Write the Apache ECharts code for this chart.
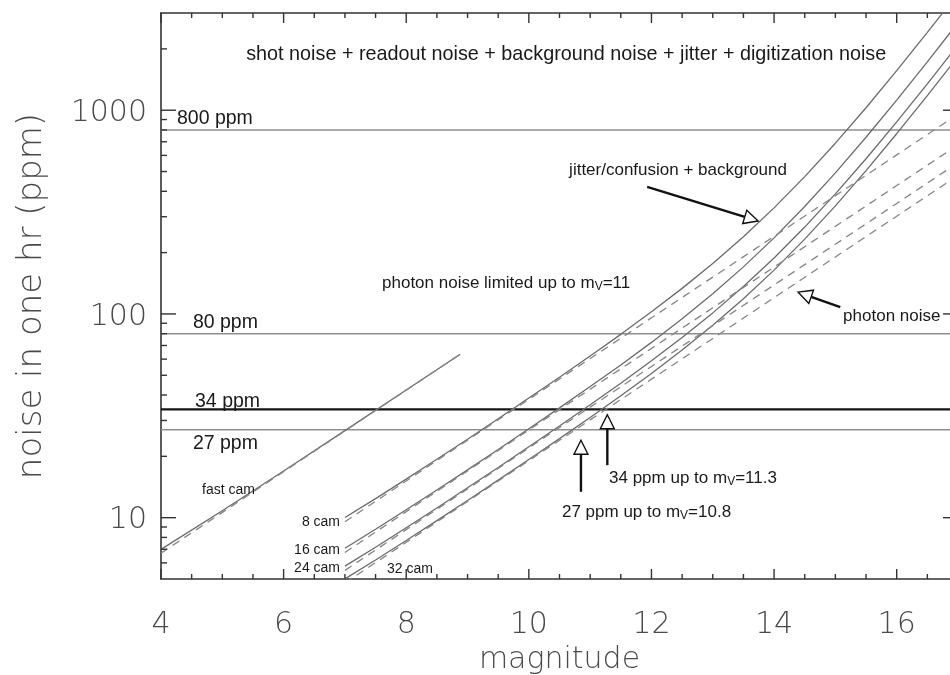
<!DOCTYPE html>
<html>
<head>
<meta charset="utf-8">
<title>Noise in one hour versus magnitude</title>
<script src="https://cdn.jsdelivr.net/npm/echarts@6/dist/echarts.min.js"></script>
<style>
  html, body { margin: 0; padding: 0; background: #ffffff; }
  #chart { width: 950px; height: 675px; }
</style>
</head>
<body>
<div id="chart"></div>
<script>
// ---- magnitude grids ----
const magTotal = [7, 7.5, 8, 8.5, 9, 9.5, 10, 10.5, 11, 11.5, 12, 12.5, 13, 13.5, 14, 14.5, 15, 15.5, 16, 16.5, 17];
const magPhoton = [7, 8, 9, 10, 11, 12, 13, 14, 15, 16, 17];
const magFast = [4, 5, 6, 7, 8, 8.88];

// ---- noise in one hour (ppm): total noise (solid) per camera count ----
const total8  = [10.02, 12.40, 15.46, 19.35, 24.28, 30.56, 38.65, 48.9, 62.17, 79.4, 102.4, 133.5, 176.8, 239.3, 331.6, 471.9, 688.8, 1028.3, 1563, 2408, 3746];
const total16 = [7.08, 8.77, 10.93, 13.68, 17.17, 21.61, 27.34, 34.6, 44.0, 56.2, 72.5, 94.7, 125.6, 170.2, 236.3, 336.9, 492.6, 736.5, 1120.7, 1727.7, 2689];
const total24 = [5.78, 7.16, 8.93, 11.16, 14.02, 17.64, 22.29, 28.2, 35.83, 45.7, 58.85, 76.6, 101.2, 136.4, 188.3, 266.9, 388.3, 577.8, 876.1, 1347.4, 2093];
const total32 = [5.01, 6.2, 7.73, 9.67, 12.14, 15.28, 19.31, 24.44, 31.05, 39.64, 51.04, 66.5, 87.9, 118.7, 164.1, 232.9, 339.1, 505.2, 766.7, 1179.8, 1834.5];

// ---- photon noise only (dashed) per camera count ----
const photon8  = [9.55, 15.14, 24.0, 38.1, 60.4, 95.7, 151.6, 240.3, 380.8, 603.6, 956.6];
const photon16 = [6.75, 10.71, 16.96, 26.94, 42.71, 67.67, 107.2, 169.9, 269.3, 426.8, 676.4];
const photon24 = [5.51, 8.74, 13.85, 21.99, 34.87, 55.25, 87.53, 138.7, 219.9, 348.5, 552.3];
const photon32 = [4.78, 7.57, 12.0, 19.05, 30.2, 47.85, 75.8, 120.15, 190.4, 301.8, 478.3];

// ---- fast camera ----
const fastTotal  = [6.99, 10.81, 16.95, 26.74, 42.32, 63.43];
const fastPhoton = [6.7, 10.62, 16.83, 26.67, 42.27, 63.4];

// ---- reference noise levels ----
const levelPpm   = [800, 80, 34, 27];
const levelNames = ['800 ppm', '80 ppm', '34 ppm', '27 ppm'];

// ---- axis ticks ----
const xMinorTicks = [4.5, 5, 5.5, 6.5, 7, 7.5, 8.5, 9, 9.5, 10.5, 11, 11.5, 12.5, 13, 13.5, 14.5, 15, 15.5, 16.5];
const xMajorTicks = [4, 6, 8, 10, 12, 14, 16];
const yMajorTicks = [10, 100, 1000];
const yTickLabels = ['10', '100', '1000'];
const yMinorTicks = [6, 7, 8, 9, 20, 30, 40, 50, 60, 70, 80, 90, 200, 300, 400, 500, 600, 700, 800, 900, 2000];

const X_MIN = 4, X_MAX = 17, Y_MIN = 5, Y_MAX = 3000;
const AXIS_FONT = 'DejaVu Sans';
const TEXT_FONT = '"Liberation Sans", Arial, Helvetica, sans-serif';
const AXIS_TEXT_COLOR = '#4a4a4a';
const FRAME_COLOR = '#333333';

const pairs = (xs, ys) => xs.map((x, i) => [x, ys[i]]);

const solidStyle = { color: '#6b6b6b', width: 1.3, type: 'solid' };
const dashStyle  = { color: '#858585', width: 1.3, type: [8, 6] };

function curve(name, xs, ys, style) {
  return {
    name, type: 'line', data: pairs(xs, ys),
    showSymbol: false, symbol: 'none', silent: true, clip: true,
    lineStyle: style, z: 3
  };
}

// tick specification list: bottom/top ticks on x, left/right ticks on y
const tickSpecs = [];
xMajorTicks.forEach(v => { tickSpecs.push({ side: 'bottom', v, major: true }); tickSpecs.push({ side: 'top', v, major: true }); });
xMinorTicks.forEach(v => { tickSpecs.push({ side: 'bottom', v, major: false }); tickSpecs.push({ side: 'top', v, major: false }); });
yMajorTicks.forEach((v, i) => { tickSpecs.push({ side: 'left', v, major: true, label: yTickLabels[i] }); tickSpecs.push({ side: 'right', v, major: true }); });
yMinorTicks.forEach(v => { tickSpecs.push({ side: 'left', v, major: false }); tickSpecs.push({ side: 'right', v, major: false }); });

function tickAnchor(t) {
  if (t.side === 'bottom') return [t.v, Y_MIN];
  if (t.side === 'top') return [t.v, Y_MAX];
  if (t.side === 'left') return [X_MIN, t.v];
  return [X_MAX, t.v];
}

function renderTick(params, api) {
  const t = tickSpecs[params.dataIndex];
  const p = api.coord(tickAnchor(t));
  let len, dx = 0, dy = 0;
  if (t.side === 'bottom' || t.side === 'top') {
    len = t.major ? 10 : 5;
    dy = t.side === 'bottom' ? -len : len;
  } else {
    len = t.major ? 15 : 6;
    dx = t.side === 'left' ? len : -len;
  }
  const children = [{
    type: 'line',
    shape: { x1: p[0], y1: p[1], x2: p[0] + dx, y2: p[1] + dy },
    style: { stroke: FRAME_COLOR, lineWidth: 1.4 }
  }];
  if (t.label) {
    children.push({
      type: 'text',
      style: {
        text: t.label, x: p[0] - 14, y: p[1] + 3,
        align: 'right', verticalAlign: 'middle',
        fontFamily: AXIS_FONT, fontSize: 30, fontWeight: 200,
        fill: AXIS_TEXT_COLOR
      }
    });
  }
  return { type: 'group', children };
}

const levelSeries = levelPpm.map((v, i) => ({
  name: levelNames[i], type: 'line',
  data: [[X_MIN, v], [X_MAX, v]],
  showSymbol: false, symbol: 'none', silent: true,
  lineStyle: v === 34 ? { color: '#151515', width: 2.2 } : { color: '#8f8f8f', width: 1.6 },
  z: 2
}));

const chart = echarts.init(document.getElementById('chart'), null, { renderer: 'canvas' });

chart.setOption({
  animation: false,
  backgroundColor: '#ffffff',
  grid: { left: 161, top: 13, right: -8, bottom: 96, containLabel: false, outerBoundsMode: 'none' },
  xAxis: [{
    type: 'value', min: X_MIN, max: X_MAX, interval: 2, position: 'bottom',
    name: 'magnitude', nameLocation: 'middle', nameGap: 64,
    nameTextStyle: { fontFamily: AXIS_FONT, fontSize: 30, fontWeight: 200, color: AXIS_TEXT_COLOR },
    axisLine: { show: true, onZero: false, lineStyle: { color: FRAME_COLOR, width: 1.6 } },
    axisTick: { show: false },
    splitLine: { show: false },
    axisLabel: {
      show: true, margin: 31, showMaxLabel: false,
      fontFamily: AXIS_FONT, fontSize: 30, fontWeight: 200, color: AXIS_TEXT_COLOR
    }
  }, {
    type: 'value', min: X_MIN, max: X_MAX, position: 'top',
    axisLine: { show: true, onZero: false, lineStyle: { color: FRAME_COLOR, width: 1.6 } },
    axisTick: { show: false }, axisLabel: { show: false }, splitLine: { show: false }
  }],
  yAxis: [{
    type: 'log', logBase: 10, min: Y_MIN, max: Y_MAX, position: 'left',
    name: 'noise in one hr (ppm)', nameLocation: 'middle', nameGap: 112, nameRotate: 90,
    nameTextStyle: { fontFamily: AXIS_FONT, fontSize: 34, fontWeight: 200, color: AXIS_TEXT_COLOR },
    axisLine: { show: true, onZero: false, lineStyle: { color: FRAME_COLOR, width: 1.6 } },
    axisTick: { show: false }, axisLabel: { show: false }, splitLine: { show: false }
  }, {
    type: 'log', logBase: 10, min: Y_MIN, max: Y_MAX, position: 'right',
    axisLine: { show: true, onZero: false, lineStyle: { color: FRAME_COLOR, width: 1.6 } },
    axisTick: { show: false }, axisLabel: { show: false }, splitLine: { show: false }
  }],
  series: [
    ...levelSeries,
    curve('fast cam total', magFast, fastTotal, solidStyle),
    curve('fast cam photon', magFast, fastPhoton, dashStyle),
    curve('8 cam total', magTotal, total8, solidStyle),
    curve('16 cam total', magTotal, total16, solidStyle),
    curve('24 cam total', magTotal, total24, solidStyle),
    curve('32 cam total', magTotal, total32, solidStyle),
    curve('8 cam photon', magPhoton, photon8, dashStyle),
    curve('16 cam photon', magPhoton, photon16, dashStyle),
    curve('24 cam photon', magPhoton, photon24, dashStyle),
    curve('32 cam photon', magPhoton, photon32, dashStyle),
    {
      name: 'ticks', type: 'custom', renderItem: renderTick, clip: false, silent: true, z: 5,
      data: tickSpecs.map(tickAnchor)
    }
  ]
});

// ---- annotations, anchored in (magnitude, ppm) ----
const toPx = (pt) => chart.convertToPixel({ gridIndex: 0 }, pt);

function arrow(from, to) {
  const a = toPx(from), b = toPx(to);
  const dx = b[0] - a[0], dy = b[1] - a[1];
  const d = Math.hypot(dx, dy), ux = dx / d, uy = dy / d;
  const L = 14, W = 7;
  const bx = b[0] - ux * L, by = b[1] - uy * L;
  return [
    { type: 'line', silent: true, z: 10,
      shape: { x1: a[0], y1: a[1], x2: bx, y2: by },
      style: { stroke: '#111111', lineWidth: 2.4 } },
    { type: 'polygon', silent: true, z: 11,
      shape: { points: [[b[0], b[1]], [bx - uy * W, by + ux * W], [bx + uy * W, by - ux * W]] },
      style: { fill: '#ffffff', stroke: '#111111', lineWidth: 1.4 } }
  ];
}

function label(pt, text, opts) {
  const p = toPx(pt);
  const o = opts || {};
  return {
    type: 'text', silent: true, z: 12,
    style: Object.assign({
      text, x: p[0] + (o.dx || 0), y: p[1] + (o.dy || 0),
      align: o.align || 'left', verticalAlign: 'middle',
      fontFamily: TEXT_FONT, fontSize: o.size || 17, fill: '#1a1a1a'
    }, o.rich ? { rich: o.rich } : {})
  };
}

const subRich = (size) => ({
  n: { fontFamily: TEXT_FONT, fontSize: size, lineHeight: 20, fill: '#1a1a1a', verticalAlign: 'middle' },
  s: { fontFamily: TEXT_FONT, fontSize: Math.round(size * 0.68), lineHeight: 10, fill: '#1a1a1a', verticalAlign: 'bottom' }
});

const levelLabelPos = [
  { m: 4.26, dy: -11 }, { m: 4.52, dy: -11 }, { m: 4.555, dy: -8 }, { m: 4.52, dy: 14 }
];

const graphics = [];
levelPpm.forEach((v, i) => {
  graphics.push(label([levelLabelPos[i].m, v], levelNames[i], { dy: levelLabelPos[i].dy, size: 19.5 }));
});
graphics.push(label([5.39, 1910], 'shot noise + readout noise + background noise + jitter + digitization noise', { size: 19.8, dy: 2 }));
graphics.push(label([14.21, 508], 'jitter/confusion + background', { align: 'right' }));
graphics.push(label([7.605, 141.8], '{n|photon noise limited up to m}{s|V}{n|=11}', { rich: subRich(17) }));
graphics.push(label([15.126, 97.6], 'photon noise'));
graphics.push(label([11.308, 15.65], '{n|34 ppm up to m}{s|V}{n|=11.3}', { rich: subRich(17) }));
graphics.push(label([10.54, 10.65], '{n|27 ppm up to m}{s|V}{n|=10.8}', { rich: subRich(17) }));
graphics.push(label([4.669, 13.66], 'fast cam', { size: 14 }));
graphics.push(label([6.92, 9.52], '8 cam', { size: 14, align: 'right' }));
graphics.push(label([6.92, 6.93], '16 cam', { size: 14, align: 'right' }));
graphics.push(label([6.92, 5.65], '24 cam', { size: 14, align: 'right' }));
graphics.push(label([7.687, 5.59], '32 cam', { size: 14 }));

graphics.push(...arrow([11.93, 420], [13.74, 286]));
graphics.push(...arrow([15.08, 108], [14.39, 128]));
graphics.push(...arrow([11.28, 18.1], [11.28, 32]));
graphics.push(...arrow([10.85, 13.4], [10.85, 24.0]));

chart.setOption({ graphic: graphics });
</script>
</body>
</html>
